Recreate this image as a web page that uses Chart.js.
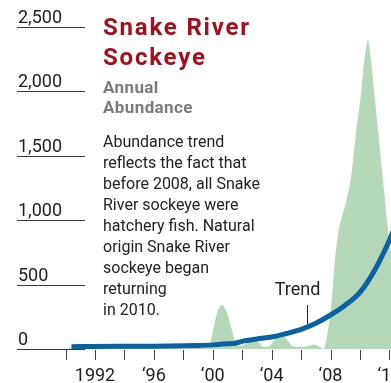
<!DOCTYPE html>
<html><head><meta charset="utf-8">
<script src="https://cdn.jsdelivr.net/npm/chart.js@4/dist/chart.umd.min.js"></script>
<style>html,body{margin:0;padding:0;background:#fff;}#wrap{width:391px;height:383px;position:relative;}</style>
</head><body><div id="wrap"><canvas id="c" width="391" height="383"></canvas></div>
<script>
// ---- data ----
const abundanceYears = [1990.2,1990.4,1992,1995,1999,1999.6,1999.8,2000.0,2000.35,2000.6,2000.9,2001.3,2001.6,2001.9,2002.6,2003.1,2003.4,2003.8,2004.2,2004.7,2005.1,2005.5,2006.3,2006.9,2007.3,2007.5,2007.6,2007.83,2008.1,2008.28,2008.56,2008.78,2009.14,2009.37,2009.51,2009.75,2010.05,2010.27,2010.55,2010.77,2011.0,2011.23,2011.45,2011.68,2011.9,2012.06,2012.4];
const abundanceValues = [0,12,10,10,10,8,30,135,300,342,300,147,30,25,65,55,18,20,70,112,65,20,18,35,15,2,16,148,404,668,924,1025,1180,1312,1444,1700,1957,2220,2399,2220,1957,1700,1444,1180,924,792,500];
const trendYears = [1990.4,1992,1996,1999,2000,2001,2001.5,2002.2,2003,2004,2005,2006,2007,2008,2009,2010,2011,2012,2012.3];
const trendValues = [18,20,22,28,32,40,45,65,78,93,120,152,200,264,340,440,612,845,930];
const yTicks = [0,500,1000,1500,2000,2500];
const yTickLabels = ['0','500','1,000','1,500','2,000','2,500'];
const xTickYears = [1990,1992,1994,1996,1998,2000,2002,2004,2006,2008,2010,2012];
const xTickLabels = ['','1992','','‘96','','‘00','','‘04','','‘08','','‘12'];
const titleLines = ['Snake River','Sockeye'];
const subtitleLines = ['Annual','Abundance'];
const noteLines = ['Abundance trend','reflects the fact that','before 2008, all Snake','River sockeye were','hatchery fish. Natural','origin Snake River','sockeye began','returning','in 2010.'];
const trendLabel = 'Trend';
const trendLabelYear = 2006.4;

const FONT = 'Roboto, "Liberation Sans", sans-serif';

const decor = {
  id: 'decor',
  beforeDatasetsDraw(chart) {
    const ctx = chart.ctx, ys = chart.scales.y;
    ctx.save();
    ctx.strokeStyle = '#3a3a3a'; ctx.lineWidth = 1;
    ctx.fillStyle = '#1e1e1e';
    ctx.font = '18px ' + FONT; ctx.textAlign = 'left'; ctx.textBaseline = 'alphabetic';
    yTicks.forEach((v, i) => {
      const y = Math.round(ys.getPixelForValue(v)) + 0.5;
      ctx.beginPath(); ctx.moveTo(17, y); ctx.lineTo(85, y); ctx.stroke();
      ctx.fillText(yTickLabels[i], 18, y - 4.5);
    });
    ctx.restore();
  },
  afterDraw(chart) {
    const ctx = chart.ctx, xs = chart.scales.x, ys = chart.scales.y;
    const base = ys.getPixelForValue(0);
    ctx.save();
    ctx.strokeStyle = '#444'; ctx.lineWidth = 1;
    xTickYears.forEach((yr) => {
      const x = Math.round(xs.getPixelForValue(yr)) + 0.5;
      ctx.beginPath(); ctx.moveTo(x, base + 1); ctx.lineTo(x, base + 11); ctx.stroke();
    });
    ctx.fillStyle = '#1e1e1e'; ctx.font = '18px ' + FONT; ctx.textAlign = 'center';
    xTickYears.forEach((yr, i) => {
      if (xTickLabels[i]) ctx.fillText(xTickLabels[i], xs.getPixelForValue(yr), 381);
    });
    // title block
    ctx.textAlign = 'left';
    ctx.fillStyle = '#a3111f'; ctx.font = 'bold 24px ' + FONT;
    ctx.letterSpacing = '1.8px';
    titleLines.forEach((t, i) => ctx.fillText(t, 103, 35 + i * 30));
    ctx.fillStyle = '#7a7a7a'; ctx.font = 'bold 17px ' + FONT;
    ctx.letterSpacing = '0.4px';
    subtitleLines.forEach((t, i) => ctx.fillText(t, 103, 93 + i * 20));
    ctx.letterSpacing = '0px';
    ctx.fillStyle = '#222'; ctx.font = '16px ' + FONT;
    noteLines.forEach((t, i) => ctx.fillText(t, 103, 147 + i * 21));
    // trend annotation
    const tx = Math.round(xs.getPixelForValue(trendLabelYear)) + 0.5;
    ctx.font = '18px ' + FONT; ctx.textAlign = 'center'; ctx.fillStyle = '#1e1e1e';
    ctx.fillText(trendLabel, tx - 10, 295);
    ctx.strokeStyle = '#222';
    ctx.beginPath(); ctx.moveTo(tx, 305); ctx.lineTo(tx, 324); ctx.stroke();
    ctx.restore();
  }
};

new Chart(document.getElementById('c'), {
  type: 'line',
  data: {
    datasets: [
      {
        label: 'Trend',
        data: trendYears.map((x, i) => ({x, y: trendValues[i]})),
        borderColor: '#0a62a3', borderWidth: 5, pointRadius: 0, fill: false,
        cubicInterpolationMode: 'monotone', order: 0, borderCapStyle: 'butt'
      },
      {
        label: 'Annual abundance',
        data: abundanceYears.map((x, i) => ({x, y: abundanceValues[i]})),
        borderWidth: 0, borderColor: 'rgba(0,0,0,0)', backgroundColor: '#b4d8b8',
        pointRadius: 0, fill: 'origin', cubicInterpolationMode: 'monotone', order: 1
      }
    ]
  },
  options: {
    responsive: false, animation: false, devicePixelRatio: 1,
    layout: { padding: { left: 17, right: 0, top: 27, bottom: 34 } },
    plugins: { legend: { display: false }, tooltip: { enabled: false } },
    scales: {
      x: { type: 'linear', min: 1986.70, max: 2012.11, display: false },
      y: { type: 'linear', min: 0, max: 2500, display: false }
    }
  },
  plugins: [decor]
});
</script></body></html>
